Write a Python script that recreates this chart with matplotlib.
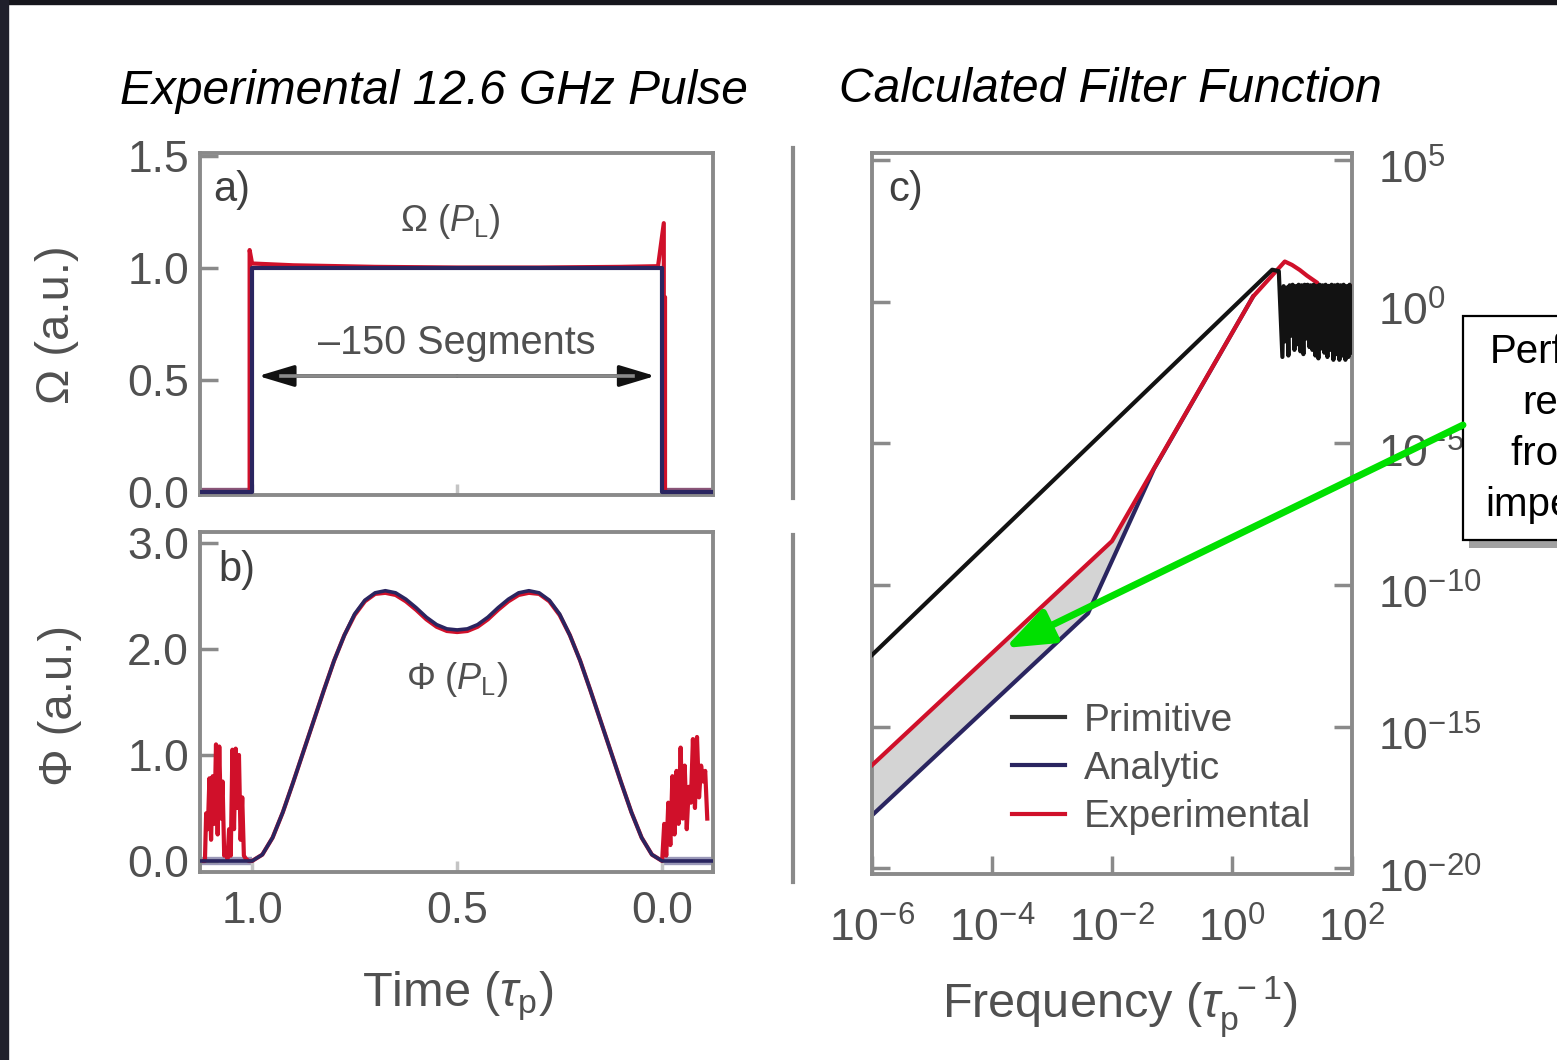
import numpy as np
import matplotlib
matplotlib.use('Agg')
import matplotlib.pyplot as plt
import matplotlib.transforms as mtransforms
from matplotlib.patches import Rectangle, FancyArrowPatch, ArrowStyle
from matplotlib.lines import Line2D
from matplotlib.ticker import FixedLocator, FuncFormatter, NullLocator

plt.rcParams['font.family'] = ['Liberation Sans', 'DejaVu Sans']
plt.rcParams['mathtext.fontset'] = 'custom'
plt.rcParams['mathtext.rm'] = 'Liberation Sans'
plt.rcParams['mathtext.it'] = 'Liberation Sans:italic'
plt.rcParams['mathtext.bf'] = 'Liberation Sans:bold'
plt.rcParams['mathtext.sf'] = 'Liberation Sans'

RED = '#d0102a'
NAVY = '#2a2560'
BLACK = '#121212'
GRAY = '#8a8a8a'
TXT = '#505050'
LW = 3.0

# ---------------- data ----------------
# panel a : Rabi frequency Omega vs time (time axis runs 1 -> 0)
a_time_analytic = [1.127, 1.0, 1.0, 0.0, 0.0, -0.124]
a_omega_analytic = [0.0, 0.0, 1.0, 1.0, 0.0, 0.0]
a_time_exp = [1.127, 1.006, 1.006, 1.0, 0.9, 0.7, 0.5, 0.3, 0.1, 0.01,
              -0.004, -0.004, -0.007, -0.007, -0.124]
a_omega_exp = [0.0, 0.0, 1.08, 1.02, 1.012, 1.005, 1.002, 1.002, 1.005, 1.008,
               1.2, 0.87, 0.87, 0.0, 0.0]

# panel b : phase Phi vs time
b_time_analytic = [1.127, 1.0, 0.975, 0.95, 0.925, 0.9, 0.875, 0.85, 0.825, 0.8,
                   0.775, 0.75, 0.725, 0.7, 0.675, 0.65, 0.625, 0.6, 0.575,
                   0.55, 0.525, 0.5, 0.475, 0.45, 0.425, 0.4, 0.375, 0.35,
                   0.325, 0.3, 0.275, 0.25, 0.225, 0.2, 0.175, 0.15, 0.125,
                   0.1, 0.075, 0.05, 0.025, 0.0, -0.124]
b_phi_analytic = [0.0, 0.0, 0.06, 0.22, 0.46, 0.74, 1.03, 1.32, 1.61, 1.89,
                  2.13, 2.33, 2.46, 2.53, 2.55, 2.53, 2.47, 2.39, 2.30,
                  2.23, 2.19, 2.18, 2.19, 2.23, 2.30, 2.39, 2.47, 2.53,
                  2.55, 2.53, 2.46, 2.33, 2.13, 1.89, 1.61, 1.32, 1.03,
                  0.74, 0.46, 0.22, 0.06, 0.0, 0.0]

b_time_exp = [1.127, 1.115, 1.112, 1.108, 1.104, 1.100, 1.096, 1.092, 1.088,
              1.084, 1.080, 1.076, 1.072, 1.068, 1.064, 1.060, 1.056, 1.052,
              1.048, 1.044, 1.040, 1.036, 1.032, 1.028, 1.024, 1.020, 1.015,
              1.008,
              1.0, 0.975, 0.95, 0.925, 0.9, 0.875, 0.85, 0.825, 0.8,
              0.775, 0.75, 0.725, 0.7, 0.675, 0.65, 0.625, 0.6, 0.575,
              0.55, 0.525, 0.5, 0.475, 0.45, 0.425, 0.4, 0.375, 0.35,
              0.325, 0.3, 0.275, 0.25, 0.225, 0.2, 0.175, 0.15, 0.125,
              0.1, 0.075, 0.05, 0.025, 0.0,
              -0.005, -0.010, -0.015, -0.020, -0.025, -0.030, -0.035, -0.040,
              -0.045, -0.050, -0.055, -0.060, -0.065, -0.070, -0.075, -0.080,
              -0.085, -0.090, -0.095, -0.100, -0.105, -0.110]
b_phi_exp = [0.0, 0.0, 0.45, 0.30, 0.78, 0.20, 0.80, 0.35, 1.10,
             0.25, 1.08, 0.40, 0.75, 0.05, 0.10, 0.02, 0.30, 0.05,
             1.05, 0.30, 1.06, 0.50, 1.00, 0.20, 0.60, 0.05, 0.02,
             0.0,
             0.0, 0.06, 0.22, 0.46, 0.74, 1.03, 1.32, 1.61, 1.89,
             2.13, 2.32, 2.45, 2.52, 2.53, 2.51, 2.45, 2.37, 2.28,
             2.21, 2.17, 2.16, 2.17, 2.21, 2.28, 2.37, 2.45, 2.51,
             2.53, 2.52, 2.45, 2.32, 2.13, 1.89, 1.61, 1.32, 1.03,
             0.74, 0.46, 0.22, 0.06, 0.0,
             0.35, 0.05, 0.55, 0.15, 0.80, 0.25, 0.85, 0.35,
             1.07, 0.40, 0.90, 0.30, 0.70, 0.55, 1.15, 0.50,
             1.17, 0.60, 0.90, 0.75, 0.85, 0.40]

# panel c : filter functions (log10 of frequency, log10 of value)
c_prim_logf = [-6.0, 0.67, 0.78,
               0.84, 0.86, 0.89, 0.91, 0.94, 0.96, 0.99,
               1.01, 1.04, 1.06, 1.09, 1.11, 1.14, 1.16, 1.19, 1.21, 1.24,
               1.26, 1.29, 1.31, 1.34, 1.36, 1.39, 1.41, 1.44, 1.46, 1.49,
               1.51, 1.54, 1.56, 1.59, 1.61, 1.64, 1.66, 1.69, 1.71, 1.74,
               1.76, 1.79, 1.81, 1.84, 1.86, 1.89, 1.91, 1.94, 1.96, 1.99]
c_prim_logS = [-12.47, 1.13, 1.08,
               -1.95, 0.55, -1.40, 0.50, -1.90, 0.58, -1.20,
               0.60, -1.70, 0.55, -1.50, 0.60, -1.75, 0.58, -1.85, 0.60, -1.30,
               0.60, -1.60, 0.58, -1.70, 0.60, -1.90, 0.55, -2.00, 0.60, -1.65,
               0.58, -1.80, 0.60, -1.95, 0.56, -1.70, 0.60, -2.05, 0.58, -1.85,
               0.60, -2.05, 0.58, -1.90, 0.60, -2.05, 0.55, -1.95, 0.60, -1.80]

c_an_logf = [-6.0, -2.4, -1.3, 0.35]
c_an_logS = [-18.13, -11.0, -5.9, 0.18]

c_exp_logf = [-6.0, -2.0, -1.3, 0.35, 0.88, 1.00, 1.13, 1.25, 1.42,
              1.46, 1.50, 1.54, 1.58, 1.62, 1.66, 1.70, 1.74, 1.78,
              1.82, 1.86, 1.90, 1.94, 1.98, 2.0]
c_exp_logS = [-16.36, -8.45, -5.88, 0.18, 1.42, 1.30, 1.12, 0.92, 0.67,
              -0.6, 0.50, -1.0, 0.55, -0.8, 0.50, -1.2, 0.55, -0.9,
              0.55, -1.1, 0.50, -0.7, 0.55, 0.1]

legend_labels = ['Primitive', 'Analytic', 'Experimental']

# ---------------- figure ----------------
W, H = 1557, 1060
fig = plt.figure(figsize=(W / 100, H / 100), dpi=100)


def fx(px):
    return px / W


def fy(py):
    return 1 - py / H


def box(l, t, r, b):
    return [l / W, 1 - b / H, (r - l) / W, (b - t) / H]


def style_axes(ax):
    for s in ax.spines.values():
        s.set_color(GRAY)
        s.set_linewidth(2.8)
    ax.tick_params(direction='in', length=13, width=2.5, color=GRAY,
                   labelcolor=TXT, labelsize=32)


# panel a
axa = fig.add_axes(box(200, 153, 713, 495))
axa.plot(a_time_analytic[:2], a_omega_analytic[:2], color='#8a5577', lw=6,
         solid_capstyle='butt', zorder=1)
axa.plot(a_time_analytic[-2:], a_omega_analytic[-2:], color='#8a5577', lw=6,
         solid_capstyle='butt', zorder=1)
axa.plot(a_time_exp, a_omega_exp, color=RED, lw=LW, zorder=2)
axa.plot(a_time_analytic, a_omega_analytic, color=NAVY, lw=LW, zorder=3)
axa.set_xlim(1.127, -0.124)
axa.set_ylim(-0.013, 1.513)
style_axes(axa)
axa.set_yticks([0.0, 0.5, 1.0, 1.5])
axa.set_yticklabels(['0.0', '0.5', '1.0', '1.5'])
axa.set_xticks([1.0, 0.5, 0.0])
axa.tick_params(axis='x', labelbottom=False, length=8, color='#c4c4c4')
axa.tick_params(axis='y', pad=8)
axa.text(0.025, 0.892, 'a)', transform=axa.transAxes, fontsize=30,
         color='#404040', ha='left', va='center')
axa.text(0.487, 0.80, r'$\Omega\ (\mathit{P}_{\mathrm{L}})$', transform=axa.transAxes,
         fontsize=26, color=TXT, ha='center', va='center')
axa.text(0.50, 0.445, '\u2013150 Segments', transform=axa.transAxes,
         fontsize=28.5, color=TXT, ha='center', va='center')
arr_y = 0.518
for end in (0.985, 0.017):
    axa.annotate('', xy=(end, arr_y), xytext=(0.5, arr_y),
                 arrowprops=dict(arrowstyle=ArrowStyle('-|>', head_length=1.1, head_width=0.33),
                                 mutation_scale=20, color='#111111', lw=2.5,
                                 shrinkA=0, shrinkB=0))
axa.plot([0.93, 0.07], [arr_y, arr_y], color=GRAY, lw=2.6, zorder=4)

# panel b
axb = fig.add_axes(box(200, 532, 713, 872))
axb.plot(b_time_analytic[:2], b_phi_analytic[:2], color='#9a98b8', lw=6,
         solid_capstyle='butt', zorder=1)
axb.plot(b_time_analytic[-2:], b_phi_analytic[-2:], color='#9a98b8', lw=6,
         solid_capstyle='butt', zorder=1)
axb.plot(b_time_exp, b_phi_exp, color=RED, lw=LW, zorder=2)
axb.plot(b_time_analytic, b_phi_analytic, color=NAVY, lw=2.6, zorder=3)
axb.set_xlim(1.127, -0.124)
axb.set_ylim(-0.104, 3.104)
style_axes(axb)
axb.set_yticks([0.0, 1.0, 2.0, 3.0])
axb.set_yticklabels(['0.0', '1.0', '2.0', '3.0'])
axb.set_xticks([1.0, 0.5, 0.0])
axb.set_xticklabels(['1.0', '0.5', '0.0'])
axb.tick_params(axis='x', length=8, color='#c4c4c4', pad=14)
axb.tick_params(axis='y', pad=8)
axb.text(0.035, 0.888, 'b)', transform=axb.transAxes, fontsize=30,
         color='#404040', ha='left', va='center')
axb.text(0.50, 0.565, r'$\Phi\ (\mathit{P}_{\mathrm{L}})$', transform=axb.transAxes,
         fontsize=26, color=TXT, ha='center', va='center')

# panel c
axc = fig.add_axes(box(872, 153, 1352, 874))
axc.set_xscale('log')
axc.set_yscale('log')
p = lambda v: 10.0 ** np.asarray(v, dtype=float)
fill_f = c_exp_logf[:3] + c_an_logf[:3][::-1]
fill_s = c_exp_logS[:3] + c_an_logS[:3][::-1]
axc.fill(p(fill_f), p(fill_s), color='#d4d4d4', lw=0, zorder=1)
axc.plot(p(c_an_logf), p(c_an_logS), color=NAVY, lw=LW, zorder=2)
axc.plot(p(c_exp_logf), p(c_exp_logS), color=RED, lw=LW, zorder=3)
axc.plot(p(c_prim_logf), p(c_prim_logS), color=BLACK, lw=LW, zorder=4)
axc.set_xlim(1e-6, 1e2)
axc.set_ylim(10 ** -20.2, 10 ** 5.25)
style_axes(axc)
axc.xaxis.set_major_locator(FixedLocator(p([-6, -4, -2, 0, 2])))
axc.yaxis.set_major_locator(FixedLocator(p([5, 0, -5, -10, -15, -20])))
axc.xaxis.set_minor_locator(NullLocator())
axc.yaxis.set_minor_locator(NullLocator())
fmt = FuncFormatter(lambda v, pos: r'$10^{%d}$' % int(round(np.log10(v))))
axc.xaxis.set_major_formatter(fmt)
axc.yaxis.set_major_formatter(fmt)
axc.tick_params(axis='y', left=True, right=True, labelleft=False, labelright=True, pad=19)
axc.tick_params(axis='x', pad=24)
shift = mtransforms.ScaledTranslation(0, -7 / 100, fig.dpi_scale_trans)
for tk in axc.yaxis.get_major_ticks():
    tk.label2.set_transform(tk.label2.get_transform() + shift)
axc.text(0.033, 0.949, 'c)', transform=axc.transAxes, fontsize=30,
         color='#404040', ha='left', va='center')
handles = [Line2D([], [], color='#333333', lw=LW),
           Line2D([], [], color=NAVY, lw=LW),
           Line2D([], [], color=RED, lw=LW)]
leg = axc.legend(handles, legend_labels, loc='upper left',
                 bbox_to_anchor=((1012 - 872) / 480, (874 - 703) / 721),
                 frameon=False, fontsize=28, handlelength=1.35, handletextpad=0.5,
                 labelspacing=0.31, borderaxespad=0, borderpad=0)
for t in leg.get_texts():
    t.set_color(TXT)

# titles and axis labels
fig.text(fx(434), fy(91), 'Experimental 12.6 GHz Pulse', ha='center', va='center',
         fontsize=34.5, style='italic', color='black')
fig.text(fx(1110), fy(89), 'Calculated Filter Function', ha='center', va='center',
         fontsize=34.5, style='italic', color='black')
fig.text(fx(57), fy(325), '\u03a9 (a.u.)', rotation=90, ha='center', va='center',
         fontsize=34, color=TXT)
fig.text(fx(60), fy(705), '\u03a6 (a.u.)', rotation=90, ha='center', va='center',
         fontsize=34, color=TXT)
fig.text(fx(458), fy(996), r'Time ($\tau_{\mathrm{p}}$)', ha='center', va='center',
         fontsize=35, color=TXT)
fig.text(fx(1120), fy(1007), r'Frequency ($\tau_{\mathrm{p}}^{\ -1}$)', ha='center',
         va='center', fontsize=35, color=TXT)

# separators
fig.add_artist(Line2D([fx(793)] * 2, [fy(148), fy(498)], color=GRAY, lw=3))
fig.add_artist(Line2D([fx(793)] * 2, [fy(535), fy(882)], color=GRAY, lw=3))

# annotation box
fig.add_artist(Rectangle((fx(1469), fy(548)), fx(400), (548 - 322) / H,
                         transform=fig.transFigure, facecolor='#555555', alpha=0.55,
                         edgecolor='none', zorder=5))
fig.add_artist(Rectangle((fx(1463), fy(540)), fx(400), (540 - 316) / H,
                         transform=fig.transFigure, facecolor='white',
                         edgecolor='black', lw=1.6, zorder=6))
box_lines = ['Performance', 'reduction', 'from pulse', 'imperfections']
for i, s in enumerate(box_lines):
    fig.text(fx(1605), fy(352 + 51 * i), s, ha='center', va='center', fontsize=29,
             color='black', zorder=7)

# green arrow
fig.add_artist(FancyArrowPatch((fx(1463), fy(425)), (fx(1005), fy(648)),
                               transform=fig.transFigure,
                               arrowstyle=ArrowStyle('-|>', head_length=1.45, head_width=0.55),
                               mutation_scale=20, color='#00e000', lw=5,
                               shrinkA=0, shrinkB=0, zorder=8))

# dark frame
fig.add_artist(Rectangle((0, fy(4)), 1, 4 / H, transform=fig.transFigure,
                         color='#16161c', zorder=10))
fig.add_artist(Rectangle((0, 0), fx(8), 1, transform=fig.transFigure,
                         color='#20202b', zorder=10))

fig.savefig('out.png', dpi=100)
